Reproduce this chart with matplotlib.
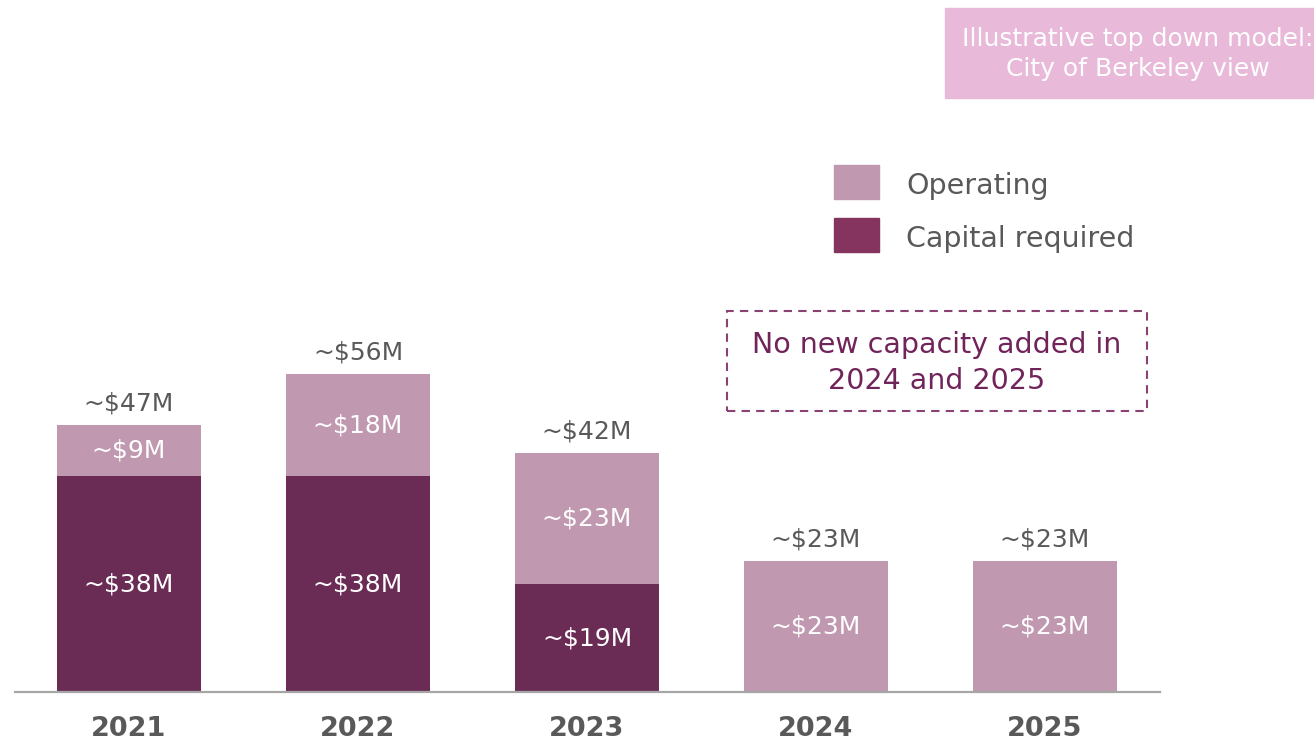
import matplotlib.pyplot as plt
from matplotlib.patches import Rectangle
import numpy as np

# datos
years = ['2021', '2022', '2023', '2024', '2025']
capital = [38, 38, 19, 0, 0]
operating = [9, 18, 23, 23, 23]
totals = [47, 56, 42, 23, 23]

c_cap = '#6A2C55'
c_op = '#C098B0'
c_leg_cap = '#84345F'
gris = '#595959'

W, H = 1314, 744
fig = plt.figure(figsize=(W / 100, H / 100), dpi=100)
ax = fig.add_axes([15 / W, 1 - 692 / H, (1160 - 15) / W, (692 - 100) / H])

x = np.arange(len(years))
ancho = 144 / 229
cap = np.array(capital)
op = np.array(operating)

ax.bar(x, cap, ancho, color=c_cap)
ax.bar(x, op, ancho, bottom=cap, color=c_op)

ax.set_xlim(-0.498, 4.502)
ax.set_ylim(0, 592 / 5.68)

# etiquetas dentro de las barras
for i in range(len(years)):
    if cap[i] > 0:
        ax.text(x[i], cap[i] / 2, f'~${cap[i]}M', ha='center', va='center',
                color='white', fontsize=18)
    if op[i] > 0:
        ax.text(x[i], cap[i] + op[i] / 2, f'~${op[i]}M', ha='center', va='center',
                color='white', fontsize=18)
    ax.annotate(f'~${totals[i]}M', (x[i], totals[i]), xytext=(0, 7),
                textcoords='offset points', ha='center', va='bottom',
                color=gris, fontsize=18)
    ax.annotate(years[i], (x[i], 0), xytext=(0, -27), textcoords='offset points',
                ha='center', va='center', color=gris, fontsize=19.5, fontweight='bold')

for s in ['top', 'right', 'left']:
    ax.spines[s].set_visible(False)
ax.spines['bottom'].set_color('#A6A6A6')
ax.spines['bottom'].set_linewidth(1.6)
ax.set_xticks([])
ax.set_yticks([])

# leyenda manual
def fx(px):
    return px / W

def fy(py):
    return 1 - py / H

fig.add_artist(Rectangle((fx(834), fy(199)), fx(45), 34 / H, color=c_op, transform=fig.transFigure))
fig.add_artist(Rectangle((fx(834), fy(252)), fx(45), 34 / H, color=c_leg_cap, transform=fig.transFigure))
fig.text(fx(906), fy(186), 'Operating', va='center', ha='left', color=gris, fontsize=20.5)
fig.text(fx(906), fy(239), 'Capital required', va='center', ha='left', color=gris, fontsize=20.5)

# caja de titulo
fig.add_artist(Rectangle((fx(945), fy(98)), fx(369), 90 / H, color='#E8B9D8', transform=fig.transFigure))
fig.text(fx(1138), fy(54), 'Illustrative top down model:\nCity of Berkeley view', ha='center',
         va='center', color='white', fontsize=18, linespacing=1.35)

# caja punteada
fig.add_artist(Rectangle((fx(727), fy(411)), fx(420), 100 / H, fill=False, edgecolor='#8A4272',
                         linestyle=(0, (4, 3)), linewidth=1.5, transform=fig.transFigure))
fig.text(fx(937), fy(363), 'No new capacity added in\n2024 and 2025', ha='center', va='center',
         color='#70245A', fontsize=20.5, linespacing=1.35)

plt.savefig('out.png', dpi=100)
